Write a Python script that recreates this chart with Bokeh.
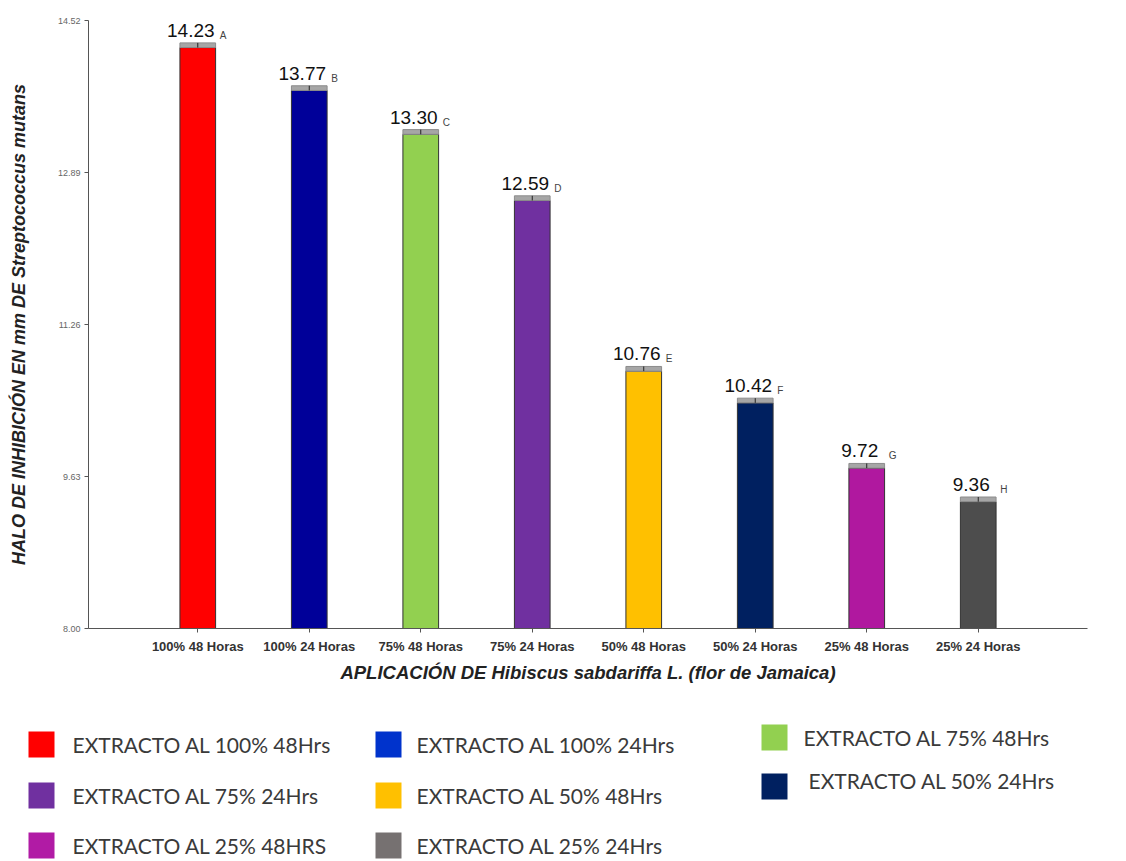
from bokeh.plotting import figure
from bokeh.models import FactorRange, Range1d, FixedTicker, NumeralTickFormatter, ColumnDataSource
from bokeh.embed import file_html
from bokeh.resources import INLINE
from bokeh.core.properties import value

# ---------------- data ----------------
categories = ["100% 48 Horas", "100% 24 Horas", "75% 48 Horas", "75% 24 Horas",
              "50% 48 Horas", "50% 24 Horas", "25% 48 Horas", "25% 24 Horas"]
values = [14.23, 13.77, 13.30, 12.59, 10.76, 10.42, 9.72, 9.36]
errors = [0.05, 0.05, 0.05, 0.05, 0.05, 0.05, 0.05, 0.05]
groups = ["A", "B", "C", "D", "E", "F", "G", "H"]
bar_colors = ["#FF0000", "#000099", "#92D050", "#7030A0",
              "#FFC000", "#002060", "#B0189F", "#4D4D4D"]
y_ticks = [8.00, 9.63, 11.26, 12.89, 14.52]

legend_labels = ["EXTRACTO AL 100% 48Hrs", "EXTRACTO AL 100% 24Hrs", "EXTRACTO AL 75% 48Hrs",
                 "EXTRACTO AL 75% 24Hrs", "EXTRACTO AL 50% 48Hrs", "EXTRACTO AL 50% 24Hrs",
                 "EXTRACTO AL 25% 48HRS", "EXTRACTO AL 25% 24Hrs"]
legend_colors = ["#FF0000", "#0033CC", "#92D050", "#7030A0",
                 "#FFC000", "#002060", "#B11BA5", "#767171"]

x_title = "APLICACIÓN DE Hibiscus sabdariffa L. (flor de Jamaica)"
y_title = "HALO DE INHIBICIÓN EN mm DE Streptococcus mutans"

# ---------------- main chart ----------------
src = ColumnDataSource(dict(
    cat=categories, val=values, err=[v + e for v, e in zip(values, errors)],
    grp=groups, color=bar_colors,
    lbl=["%.2f" % v for v in values],
))

p = figure(x_range=FactorRange(*categories, range_padding=0.12),
           y_range=Range1d(y_ticks[0], y_ticks[-1]),
           width=1110, height=700, output_backend="svg", toolbar_location=None,
           min_border_left=88, min_border_right=23, min_border_top=20, min_border_bottom=72)

p.vbar(x="cat", top="val", bottom=y_ticks[0], width=0.32, source=src,
       fill_color="color", line_color="#333333", line_width=1)
p.vbar(x="cat", top="err", bottom="val", width=0.32, source=src,
       fill_color="#A6A6A6", line_color="#8C8C8C", line_width=1)
p.segment(x0="cat", y0="val", x1="cat", y1="err", source=src, line_color="#222222", line_width=1)

p.text(x="cat", y="err", text="lbl", source=src, text_font=value("Liberation Sans"),
       text_font_size="19px", text_color="#111111", text_align="center",
       text_baseline="bottom", x_offset=-7, y_offset=-6)
p.text(x="cat", y="err", text="grp", source=src, text_font=value("Liberation Sans"),
       text_font_size="10px", text_color="#444444", text_align="left",
       text_baseline="bottom", x_offset=22, y_offset=-2)

p.xgrid.grid_line_color = None
p.ygrid.grid_line_color = None
p.outline_line_color = None

p.yaxis.ticker = FixedTicker(ticks=y_ticks)
p.yaxis.formatter = NumeralTickFormatter(format="0.00")
p.yaxis.minor_tick_line_color = None
p.axis.axis_line_color = "#555555"
p.axis.major_tick_line_color = "#555555"
p.axis.major_tick_out = 4
p.axis.major_tick_in = 0
p.yaxis.major_label_text_font = "Liberation Sans"
p.yaxis.major_label_text_font_size = "9px"
p.yaxis.major_label_text_color = "#666666"
p.yaxis.major_label_standoff = 4
p.yaxis.axis_label = y_title
p.yaxis.axis_label_text_font = "Liberation Sans"
p.yaxis.axis_label_text_font_style = "bold italic"
p.yaxis.axis_label_text_font_size = "18px"
p.yaxis.axis_label_text_color = "#222222"
p.yaxis.axis_label_standoff = 26

p.xaxis.major_label_text_font = "Liberation Sans"
p.xaxis.major_label_text_font_style = "bold"
p.xaxis.major_label_text_font_size = "13px"
p.xaxis.major_label_text_color = "#333333"
p.xaxis.major_label_standoff = 6
p.xaxis.axis_label = x_title
p.xaxis.axis_label_text_font = "Liberation Sans"
p.xaxis.axis_label_text_font_style = "bold italic"
p.xaxis.axis_label_text_font_size = "18.5px"
p.xaxis.axis_label_text_color = "#222222"
p.xaxis.axis_label_standoff = 5

# ---------------- legend panel (separate root, no frame alignment) ----------------
lg = figure(width=1110, height=161, x_range=Range1d(0, 1110), y_range=Range1d(161, 0),
            x_axis_type=None, y_axis_type=None, output_backend="svg", toolbar_location=None,
            min_border=0)
lg.xgrid.grid_line_color = None
lg.ygrid.grid_line_color = None
lg.outline_line_color = None

col_sq = [41, 388, 774]
col_tx = [72, 416, 803]
row_y = [44, 95, 145]
col3_y = [37, 86]
sq_x, sq_y, tx_x, tx_y = [], [], [], []
for i in range(len(legend_labels)):
    c, r = i % 3, i // 3
    y = row_y[r] if c < 2 else col3_y[r]
    sq_x.append(col_sq[c])
    sq_y.append(y)
    tx_x.append(col_tx[c] + (5 if (c == 2 and r == 1) else 0))
    tx_y.append(y - (0 if c < 2 else (0 if r == 0 else 6)))

lsrc = ColumnDataSource(dict(sx=sq_x, sy=sq_y, tx=tx_x, ty=tx_y,
                             color=legend_colors, label=legend_labels))
lg.rect(x="sx", y="sy", width=26, height=26, source=lsrc, fill_color="color", line_color=None)
lg.text(x="tx", y="ty", text="label", source=lsrc, text_font=value("Lato"),
        text_font_size="21px", text_color="#3A3A3A", text_baseline="middle", text_align="left")

open("out.html", "w").write(file_html([p, lg], INLINE))
